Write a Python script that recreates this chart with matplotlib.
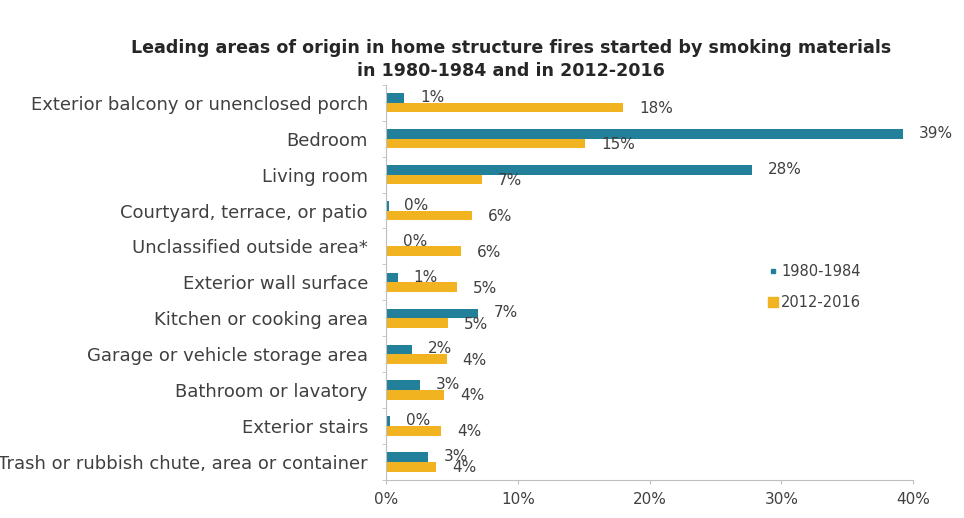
import matplotlib.pyplot as plt
import numpy as np
from matplotlib.lines import Line2D

categories = [
    "Exterior balcony or unenclosed porch",
    "Bedroom",
    "Living room",
    "Courtyard, terrace, or patio",
    "Unclassified outside area*",
    "Exterior wall surface",
    "Kitchen or cooking area",
    "Garage or vehicle storage area",
    "Bathroom or lavatory",
    "Exterior stairs",
    "Trash or rubbish chute, area or container",
]
vals_1980 = [1.4, 39.2, 27.8, 0.2, 0.1, 0.9, 7.0, 2.0, 2.6, 0.3, 3.2]
vals_2012 = [18.0, 15.1, 7.3, 6.5, 5.7, 5.4, 4.7, 4.6, 4.4, 4.2, 3.8]
labels_1980 = ["1%", "39%", "28%", "0%", "0%", "1%", "7%", "2%", "3%", "0%", "3%"]
labels_2012 = ["18%", "15%", "7%", "6%", "6%", "5%", "5%", "4%", "4%", "4%", "4%"]
xticks = [0, 10, 20, 30, 40]

teal = '#22809b'
gold = '#f2b321'
txt = '#404040'

def main():
    plt.rcParams['font.family'] = ['DejaVu Sans']
    fig = plt.figure(figsize=(9.64, 5.18), dpi=100)
    ax = fig.add_axes([0.4004, 0.0734, 0.547, 0.763])

    y = np.arange(len(categories))
    h = 0.27
    ax.barh(y - h / 2, vals_1980, height=h, color=teal, label='1980-1984')
    ax.barh(y + h / 2, vals_2012, height=h, color=gold, label='2012-2016')

    # data labels just past bar ends
    for i in range(len(categories)):
        ax.text(vals_1980[i] + 1.2, y[i] - h * 0.55, labels_1980[i],
                va='center', ha='left', fontsize=11, color=txt)
        ax.text(vals_2012[i] + 1.2, y[i] + h * 0.6, labels_2012[i],
                va='center', ha='left', fontsize=11, color=txt)

    ax.set_xlim(0, 40)
    ax.set_ylim(len(categories) - 0.5, -0.5)
    ax.set_xticks(xticks)
    ax.set_xticklabels([f"{t}%" for t in xticks], fontsize=11, color=txt)
    ax.set_yticks(y)
    ax.set_yticklabels(categories, fontsize=13, color=txt)
    ax.tick_params(axis='y', length=0, pad=13)
    ax.set_yticks(np.arange(len(categories) + 1) - 0.5, minor=True)
    ax.tick_params(axis='y', which='minor', length=3, color='#bfbfbf')
    ax.tick_params(axis='x', length=3, color='#bfbfbf', pad=6)

    for s in ['top', 'right']:
        ax.spines[s].set_visible(False)
    ax.spines['left'].set_color('#bfbfbf')
    ax.spines['bottom'].set_color('#bfbfbf')

    handles = [
        Line2D([], [], marker='s', linestyle='none', color=teal, markersize=3.5),
        Line2D([], [], marker='s', linestyle='none', color=gold, markersize=7),
    ]
    leg = ax.legend(handles, ['1980-1984', '2012-2016'], loc='upper left',
                    bbox_to_anchor=(0.7, 0.58), frameon=False, fontsize=10.5,
                    handlelength=0.6, handletextpad=0.3, labelspacing=1.1)
    for t in leg.get_texts():
        t.set_color(txt)

    fig.text(0.53, 0.886,
             "Leading areas of origin in home structure fires started by smoking materials\n"
             "in 1980-1984 and in 2012-2016",
             ha='center', va='center', fontsize=12.6, fontweight='bold',
             color='#262626', linespacing=1.35)

    fig.savefig('out.png', dpi=100)

main()
